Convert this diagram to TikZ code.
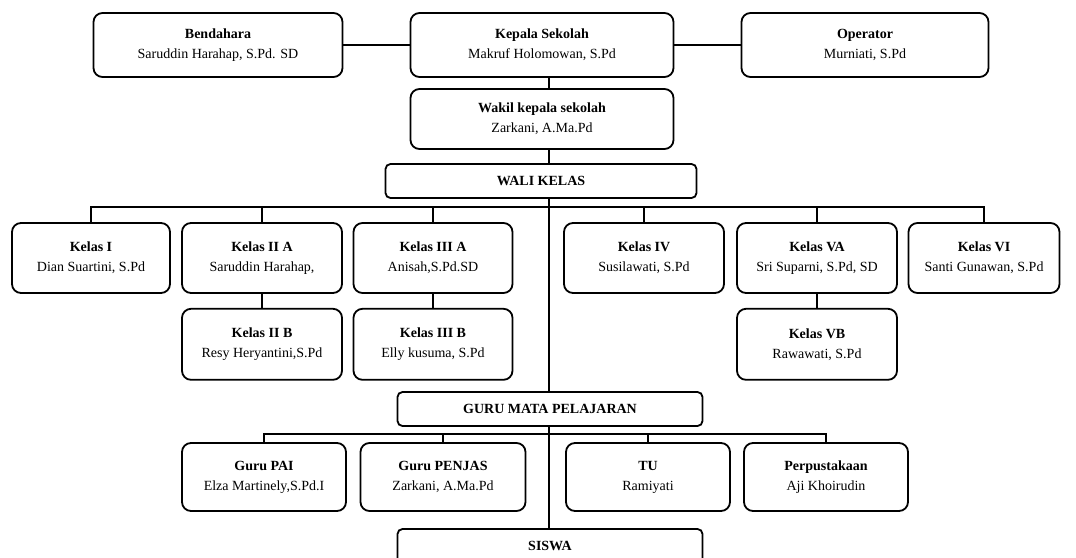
\documentclass[tikz,border=0pt]{standalone}
\usepackage{fontspec}
\setmainfont{Liberation Serif}
\usepackage{tikz}
\usetikzlibrary{positioning}
\tikzset{
  %% -- unit box: title and name --
  org/unit/.style={
    draw, line width=1.8pt, rounded corners=9pt, fill=white,
    align=center, inner sep=2pt,
    font=\fontsize{14}{20}\selectfont
  },
  %% -- group bar (one bold line) --
  org/bar/.style={
    draw, line width=1.8pt, rounded corners=5pt, fill=white,
    align=center, inner sep=2pt,
    font=\fontsize{14}{16}\selectfont\bfseries
  },
  %% -- connector --
  org/link/.style={line width=1.5pt},
}

\begin{document}
\begin{tikzpicture}[x=1pt, y=-1pt]
\clip (0,0) rectangle (1076,557);
\coordinate (spine) at (549,0);
\coordinate (busK)  at (0,207);
\coordinate (busG)  at (0,434);

%% Head
\node[org/unit, minimum width=249pt, minimum height=64pt] (bendahara) at (218,45)
  {\textbf{Bendahara}\\Saruddin Harahap, S.Pd. SD};
\node[org/unit, minimum width=263pt, minimum height=64pt] (kepala) at (542,45)
  {\textbf{Kepala Sekolah}\\Makruf Holomowan, S.Pd};
\node[org/unit, minimum width=247pt, minimum height=64pt] (operator) at (865,45)
  {\textbf{Operator}\\Murniati, S.Pd};
\node[org/unit, minimum width=263pt, minimum height=60pt] (wakil) at (542,119)
  {\textbf{Wakil kepala sekolah}\\Zarkani, A.Ma.Pd};
\node[org/bar, minimum width=311pt, minimum height=34pt] (wali) at (541,181)
  {WALI KELAS};

%% Classes
\node[org/unit, minimum width=158pt, minimum height=70pt] (k1)  at (91,258)
  {\textbf{Kelas I}\\Dian Suartini, S.Pd};
\node[org/unit, minimum width=160pt, minimum height=70pt] (k2a) at (262,258)
  {\textbf{Kelas II A}\\Saruddin Harahap,};
\node[org/unit, minimum width=159pt, minimum height=70pt] (k3a) at (433,258)
  {\textbf{Kelas III A}\\Anisah,S.Pd.SD};
\node[org/unit, minimum width=160pt, minimum height=70pt] (k4)  at (644,258)
  {\textbf{Kelas IV}\\Susilawati, S.Pd};
\node[org/unit, minimum width=160pt, minimum height=70pt] (k5a) at (817,258)
  {\textbf{Kelas VA}\\Sri Suparni, S.Pd, SD};
\node[org/unit, minimum width=151pt, minimum height=70pt] (k6)  at (984,258)
  {\textbf{Kelas VI}\\Santi Gunawan, S.Pd};
\node[org/unit, minimum width=160pt, minimum height=71pt, below=14pt of k2a] (k2b)
  {\textbf{Kelas II B}\\Resy Heryantini,S.Pd};
\node[org/unit, minimum width=159pt, minimum height=71pt, below=14pt of k3a] (k3b)
  {\textbf{Kelas III B}\\Elly kusuma, S.Pd};
\node[org/unit, minimum width=160pt, minimum height=71pt, below=14pt of k5a] (k5b)
  {\textbf{Kelas VB}\\Rawawati, S.Pd};

%% Subject teachers and staff
\node[org/bar, minimum width=305pt, minimum height=34pt] (guru) at (550,409)
  {GURU MATA PELAJARAN};
\node[org/unit, minimum width=164pt, minimum height=68pt] (pai)    at (264,477)
  {\textbf{Guru PAI}\\Elza Martinely,S.Pd.I};
\node[org/unit, minimum width=165pt, minimum height=68pt] (penjas) at (443,477)
  {\textbf{Guru PENJAS}\\Zarkani, A.Ma.Pd};
\node[org/unit, minimum width=164pt, minimum height=68pt] (tu)     at (648,477)
  {\textbf{TU}\\Ramiyati};
\node[org/unit, minimum width=164pt, minimum height=68pt] (perpus) at (826,477)
  {\textbf{Perpustakaan}\\Aji Khoirudin};
\node[org/bar, minimum width=305pt, minimum height=34pt] (siswa) at (550,546)
  {SISWA};

%% Head links
\draw[org/link] (bendahara) -- (kepala);
\draw[org/link] (kepala) -- (operator);
\draw[org/link] (kepala.south -| spine) -- (wakil.north -| spine);
\draw[org/link] (wakil.south -| spine) -- (wali.north -| spine);

%% Spine down to the students
\draw[org/link] (wali.south -| spine) -- (guru.north -| spine);
\draw[org/link] (guru.south -| spine) -- (siswa.north -| spine);

%% Class bus
\draw[org/link] (k1.north) -- (k1.north |- busK) -- (k6.north |- busK) -- (k6.north);
\draw[org/link] (k2a.north) -- (k2a.north |- busK);
\draw[org/link] (k3a.north) -- (k3a.north |- busK);
\draw[org/link] (k4.north) -- (k4.north |- busK);
\draw[org/link] (k5a.north) -- (k5a.north |- busK);
\draw[org/link] (k2a) -- (k2b);
\draw[org/link] (k3a) -- (k3b);
\draw[org/link] (k5a) -- (k5b);

%% Teacher bus
\draw[org/link] (pai.north) -- (pai.north |- busG) -- (perpus.north |- busG) -- (perpus.north);
\draw[org/link] (penjas.north) -- (penjas.north |- busG);
\draw[org/link] (tu.north) -- (tu.north |- busG);
\end{tikzpicture}
\end{document}
